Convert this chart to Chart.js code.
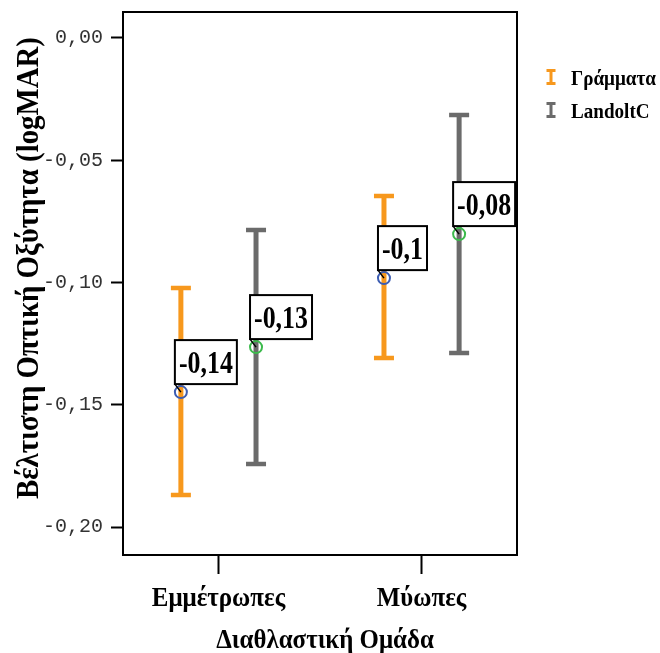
<!DOCTYPE html>
<html>
<head>
<meta charset="utf-8">
<script src="https://cdn.jsdelivr.net/npm/chart.js@4"></script>
<style>
  html, body { margin: 0; padding: 0; background: #ffffff; }
</style>
</head>
<body>
<canvas id="chart" width="660" height="653"></canvas>
<script>
// Refraction groups on the x axis
const groups = ['Εμμέτρωπες', 'Μύωπες'];
const seriesNames = ['Γράμματα', 'LandoltC'];
const yTitle = 'Βέλτιστη Οπτική Οξύτητα (logMAR)';
const xTitle = 'Διαθλαστική Ομάδα';

// Best visual acuity (logMAR): mean and error-bar ends per group
const lettersMean  = [-0.1448, -0.0982];
const lettersUpper = [-0.1022, -0.0646];
const lettersLower = [-0.1869, -0.1309];

const landoltMean  = [-0.1264, -0.0802];
const landoltUpper = [-0.0785, -0.0315];
const landoltLower = [-0.1742, -0.1288];

const yTickValues = [0, -0.05, -0.10, -0.15, -0.20];

const SERIF = '"Liberation Serif", "Times New Roman", serif';
const MONO = '"Liberation Mono", "Courier New", monospace';

const barColors = ['#f7981d', '#6b6b6b'];
const markerColors = ['#3d5db2', '#3cba4c'];
const groupOffset = [-0.185, 0.185];

function commaNum(v, digits) {
  if (Math.abs(v) < 1e-9) v = 0;
  return v.toFixed(digits).replace('.', ',');
}
function valueLabel(v) {
  return String(Number(v.toFixed(2))).replace('.', ',');
}

// narrow bold serif text, squeezed horizontally
function condensedText(ctx, text, x, y, size, squeeze, align, rotate) {
  ctx.save();
  ctx.translate(x, y);
  if (rotate) ctx.rotate(rotate);
  ctx.scale(squeeze, 1);
  ctx.font = 'bold ' + size + 'px ' + SERIF;
  ctx.fillStyle = '#000';
  ctx.textAlign = align;
  ctx.textBaseline = 'alphabetic';
  ctx.fillText(text, 0, 0);
  ctx.restore();
}

function makeSeries(idx, means, lowers, uppers) {
  return {
    label: seriesNames[idx],
    data: means.map((m, i) => ({ x: i + groupOffset[idx], y: m })),
    lower: lowers,
    upper: uppers,
    barColor: barColors[idx],
    pointStyle: 'circle',
    pointRadius: 6,
    pointHoverRadius: 6,
    pointBorderWidth: 2,
    pointBackgroundColor: 'rgba(0,0,0,0)',
    pointBorderColor: markerColors[idx],
    showLine: false
  };
}

// Whiskers, frame, value boxes, axis texts and legend
const decorations = {
  id: 'decorations',
  beforeDatasetsDraw(chart) {
    const { ctx } = chart;
    const yScale = chart.scales.y;
    chart.data.datasets.forEach((ds, di) => {
      const meta = chart.getDatasetMeta(di);
      meta.data.forEach((pt, i) => {
        const x = pt.x;
        const yHi = yScale.getPixelForValue(ds.upper[i]);
        const yLo = yScale.getPixelForValue(ds.lower[i]);
        ctx.save();
        ctx.strokeStyle = ds.barColor;
        ctx.lineCap = 'butt';
        ctx.lineWidth = 5;
        ctx.beginPath();
        ctx.moveTo(x, yHi);
        ctx.lineTo(x, yLo);
        ctx.stroke();
        ctx.lineWidth = 4.5;
        ctx.beginPath();
        ctx.moveTo(x - 10, yHi);
        ctx.lineTo(x + 10, yHi);
        ctx.moveTo(x - 10, yLo);
        ctx.lineTo(x + 10, yLo);
        ctx.stroke();
        ctx.restore();
      });
    });
  },
  afterDatasetsDraw(chart) {
    const { ctx, chartArea } = chart;
    const xScale = chart.scales.x;

    ctx.save();
    ctx.strokeStyle = '#000';
    ctx.lineWidth = 2;
    ctx.strokeRect(chartArea.left, chartArea.top,
      chartArea.right - chartArea.left, chartArea.bottom - chartArea.top);
    ctx.restore();

    // value boxes beside each mean
    chart.data.datasets.forEach((ds, di) => {
      const meta = chart.getDatasetMeta(di);
      meta.data.forEach((pt, i) => {
        const text = valueLabel(ds.data[i].y);
        const size = 32, squeeze = 0.81;
        ctx.save();
        ctx.font = 'bold ' + size + 'px ' + SERIF;
        const tw = ctx.measureText(text).width * squeeze;
        ctx.restore();
        const w = tw + 8;
        const h = 44;
        const left = pt.x - 6;
        const bottom = pt.y - 8;
        ctx.save();
        ctx.strokeStyle = '#000';
        ctx.lineWidth = 1.5;
        ctx.beginPath();
        ctx.moveTo(left, bottom);
        ctx.lineTo(pt.x, pt.y);
        ctx.stroke();
        ctx.fillStyle = '#fff';
        ctx.fillRect(left, bottom - h, w, h);
        ctx.lineWidth = 2;
        ctx.strokeRect(left, bottom - h, w, h);
        ctx.restore();
        condensedText(ctx, text, left + w / 2, bottom - h / 2 + 11, size, squeeze, 'center');
      });
    });

    // category labels under the x ticks
    groups.forEach((g, i) => {
      condensedText(ctx, g, xScale.getPixelForValue(i), 606, 28, 0.89, 'center');
    });

    // axis titles
    condensedText(ctx, xTitle, (chartArea.left + chartArea.right) / 2 + 5, 648, 28, 0.89, 'center');
    condensedText(ctx, yTitle, 38, 268, 31, 0.93, 'center', -Math.PI / 2);

    // legend
    const legendY = [77, 110];
    chart.data.datasets.forEach((ds, di) => {
      const cy = legendY[di];
      const cx = 551;
      ctx.save();
      ctx.strokeStyle = ds.barColor;
      ctx.lineWidth = 3;
      ctx.beginPath();
      ctx.moveTo(cx, cy - 7);
      ctx.lineTo(cx, cy + 7);
      ctx.moveTo(cx - 4.5, cy - 6.5);
      ctx.lineTo(cx + 4.5, cy - 6.5);
      ctx.moveTo(cx - 4.5, cy + 6.5);
      ctx.lineTo(cx + 4.5, cy + 6.5);
      ctx.stroke();
      ctx.restore();
      condensedText(ctx, ds.label, 571, cy + 7.5, 21, 0.91, 'left');
    });
  }
};

new Chart(document.getElementById('chart'), {
  type: 'scatter',
  data: {
    datasets: [
      makeSeries(0, lettersMean, lettersLower, lettersUpper),
      makeSeries(1, landoltMean, landoltLower, landoltUpper)
    ]
  },
  options: {
    responsive: false,
    animation: false,
    devicePixelRatio: 1,
    layout: { padding: { top: 12, right: 143, left: 0, bottom: 0 } },
    plugins: {
      legend: { display: false },
      tooltip: { enabled: false }
    },
    scales: {
      x: {
        type: 'linear',
        min: -0.47,
        max: 1.47,
        afterBuildTicks(axis) {
          axis.ticks = groups.map((_, i) => ({ value: i }));
        },
        afterFit(axis) {
          axis.height = 98;
          axis.paddingLeft = 0;
          axis.paddingRight = 0;
        },
        ticks: { display: false },
        grid: {
          drawOnChartArea: false,
          drawTicks: true,
          tickLength: 19,
          tickWidth: 2,
          tickColor: '#000'
        },
        border: { display: true, color: '#000', width: 2 },
        title: { display: false }
      },
      y: {
        type: 'linear',
        min: -0.2114,
        max: 0.0106,
        afterBuildTicks(axis) {
          axis.ticks = yTickValues.map((v) => ({ value: v }));
        },
        afterFit(axis) {
          axis.width = 123;
          axis.paddingTop = 0;
          axis.paddingBottom = 0;
        },
        ticks: {
          padding: 8,
          color: '#333',
          font: { family: MONO, size: 20 },
          callback: (v) => commaNum(v, 2)
        },
        grid: {
          drawOnChartArea: false,
          drawTicks: true,
          tickLength: 12,
          tickWidth: 2,
          tickColor: '#000'
        },
        border: { display: true, color: '#000', width: 2 },
        title: { display: false }
      }
    }
  },
  plugins: [decorations]
});
</script>
</body>
</html>
